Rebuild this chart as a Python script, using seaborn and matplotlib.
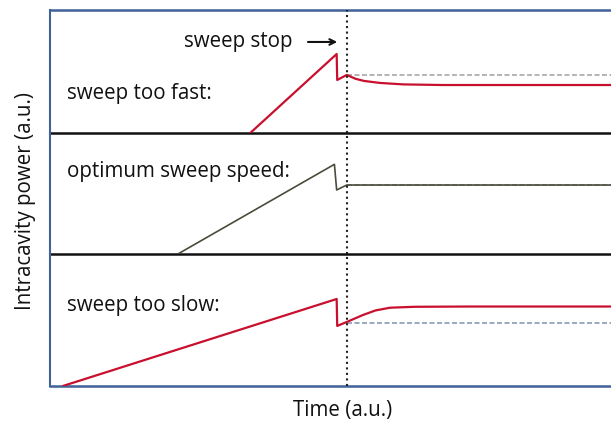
import numpy as np
import matplotlib.pyplot as plt
import pandas as pd
import seaborn as sns

# time axis in a.u. (0..10), sweep stops at 5.29
sweep_stop = 5.29

# sweep too fast
fast_t = [3.57, 5.11, 5.12, 5.29, 5.45, 5.6, 5.88, 6.3, 7.0, 10.0]
fast_p = [0.0, 0.642, 0.431, 0.472, 0.44, 0.423, 0.407, 0.395, 0.39, 0.39]
fast_ref = 0.472

# optimum sweep speed
opt_t = [2.28, 5.07, 5.11, 5.29, 10.0]
opt_p = [0.0, 0.741, 0.529, 0.570, 0.570]
opt_ref = 0.570

# sweep too slow
slow_t = [0.23, 5.11, 5.12, 5.29, 5.58, 5.8, 6.06, 6.5, 7.5, 10.0]
slow_p = [0.0, 0.659, 0.455, 0.485, 0.538, 0.572, 0.593, 0.600, 0.602, 0.602]
slow_ref = 0.48

labels = ["sweep too fast:", "optimum sweep speed:", "sweep too slow:"]
label_y = [0.325, 0.68, 0.606]

sns.set_style("white")
plt.rcParams['font.family'] = ['Open Sans', 'DejaVu Sans']
fs = 14.8

fig, axes = plt.subplots(3, 1, figsize=(6.11, 4.25), dpi=100, sharex=True,
                         gridspec_kw={'height_ratios': [123, 121, 132], 'hspace': 0})
fig.subplots_adjust(left=0.0818, right=1.0, top=0.9765, bottom=0.0918)

blue = '#3f6398'
series = [(fast_t, fast_p, fast_ref, '#c8102e', '#a8a8a8'),
          (opt_t, opt_p, opt_ref, '#4b4b3c', '#9a9a9a'),
          (slow_t, slow_p, slow_ref, '#c8102e', '#8a9ab5')]

for i, (ax, (t, p, ref, col, refcol)) in enumerate(zip(axes, series)):
    ax.patch.set_alpha(0)
    ax.hlines(ref, sweep_stop, 10, colors=refcol, linestyles=(0, (3, 1.5)), lw=1.2, zorder=1)
    sns.lineplot(x=t, y=p, ax=ax, color=col, lw=1.6 if i != 1 else 1.2, zorder=3)
    ax.axvline(sweep_stop, color='#222222', ls=':', lw=1.5, zorder=4)
    ax.text(0.30, label_y[i], labels[i], fontsize=fs, va='center', ha='left', color='#111111')
    ax.set_xlim(0, 10)
    ax.set_ylim(0, 1)
    ax.set_xticks([])
    ax.set_yticks([])
    ax.spines['right'].set_visible(False)
    ax.spines['left'].set_color(blue)
    ax.spines['left'].set_linewidth(1.5)
    ax.spines['bottom'].set_color('#111111')
    ax.spines['bottom'].set_linewidth(1.8)
    if i > 0:
        ax.spines['top'].set_visible(False)

axes[0].spines['top'].set_color(blue)
axes[0].spines['top'].set_linewidth(1.8)
axes[2].spines['bottom'].set_color(blue)
axes[2].spines['bottom'].set_linewidth(1.8)

axes[0].annotate("", xy=(5.17, 0.74), xytext=(4.55, 0.74),
                 arrowprops=dict(arrowstyle='->', color='#111111', lw=1.5))
axes[0].text(4.33, 0.74, "sweep stop", fontsize=fs, ha='right', va='center', color='#111111')

fig.text(0.561, 0.035, "Time (a.u.)", fontsize=fs, ha='center', va='center', color='#111111')
fig.text(0.041, 0.528, "Intracavity power (a.u.)", rotation=90, fontsize=fs,
         ha='center', va='center', color='#111111')

fig.savefig("out.png", dpi=100)
